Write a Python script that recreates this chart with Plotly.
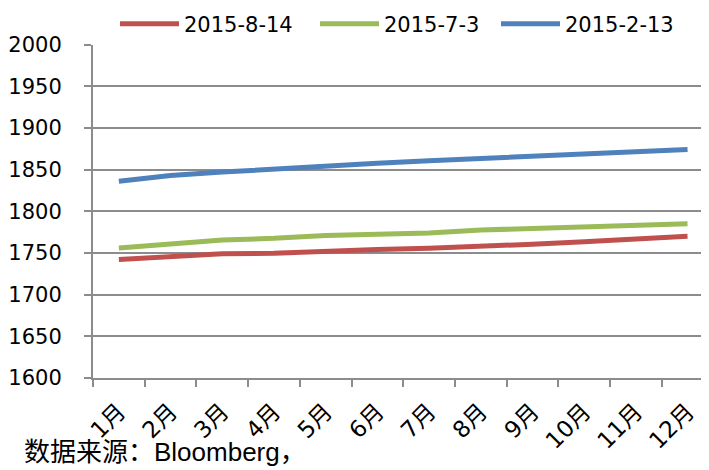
import plotly.graph_objects as go

months = ["1月", "2月", "3月", "4月", "5月", "6月", "7月", "8月", "9月", "10月", "11月", "12月"]
s_0814 = [1742, 1746, 1749, 1749.5, 1752.5, 1754, 1755.5, 1757.5, 1760.5, 1763.5, 1766.5, 1770]
s_0703 = [1756, 1761.5, 1765.5, 1767.5, 1771, 1772.5, 1774, 1777.5, 1779, 1781, 1783.5, 1785]
s_0213 = [1836, 1843, 1847, 1851, 1854.5, 1857.5, 1860.5, 1863.5, 1866.5, 1869.5, 1871.5, 1874]
y_ticks = [1600, 1650, 1700, 1750, 1800, 1850, 1900, 1950, 2000]

series = [
    ("2015-8-14", s_0814, "#C0504D", 126),
    ("2015-7-3", s_0703, "#9BBB59", 107),
    ("2015-2-13", s_0213, "#4F81BD", 110),
]

fig = go.Figure()
for name, vals, color, lw in series:
    fig.add_trace(go.Scatter(x=months, y=vals, name=name, mode="lines",
                             legendwidth=lw,
                             line=dict(color=color, width=5)))

tick_font = dict(family="DejaVu Sans", size=21, color="#000000")
cjk_font = dict(family="DejaVu Sans, Noto Sans CJK SC", size=23, color="#000000")

# page body has an 8px margin, so the figure is sized to fit the 709x470 window
fig.update_layout(
    template="none",
    width=701, height=462,
    margin=dict(l=85, r=0, t=36, b=92, pad=0),
    paper_bgcolor="white", plot_bgcolor="white",
    showlegend=True,
    legend=dict(orientation="h", xref="container", x=107 / 701, xanchor="left",
                yref="container", y=1 - 16 / 462, yanchor="middle",
                font=tick_font, itemwidth=59, traceorder="normal",
                bgcolor="rgba(0,0,0,0)", borderwidth=0),
    xaxis=dict(type="category", range=[-0.5, 11.415], tickangle=-45, automargin=False,
               tickfont=cjk_font, tickson="boundaries", ticks="outside",
               ticklen=7, tickcolor="#8c8c8c", tickwidth=1.5, showline=True,
               linecolor="#8c8c8c", linewidth=2, showgrid=False, zeroline=False,
               ticklabelstandoff=9),
    yaxis=dict(range=[1600, 2000], tickvals=y_ticks, tickfont=tick_font, automargin=False,
               ticks="outside", ticklen=7, tickcolor="#8c8c8c", tickwidth=1.5,
               showline=True, linecolor="#8c8c8c", linewidth=2,
               showgrid=True, gridcolor="#8c8c8c", gridwidth=2, zeroline=False,
               ticklabelstandoff=18),
    annotations=[dict(text="数据来源：Bloomberg，", xref="paper", yref="paper",
                      x=-0.115, y=-0.222, xanchor="left", yanchor="middle",
                      showarrow=False,
                      font=dict(family="Liberation Sans, Noto Sans CJK SC", size=26,
                                color="#000000"))],
)

fig.write_html("out.html")
